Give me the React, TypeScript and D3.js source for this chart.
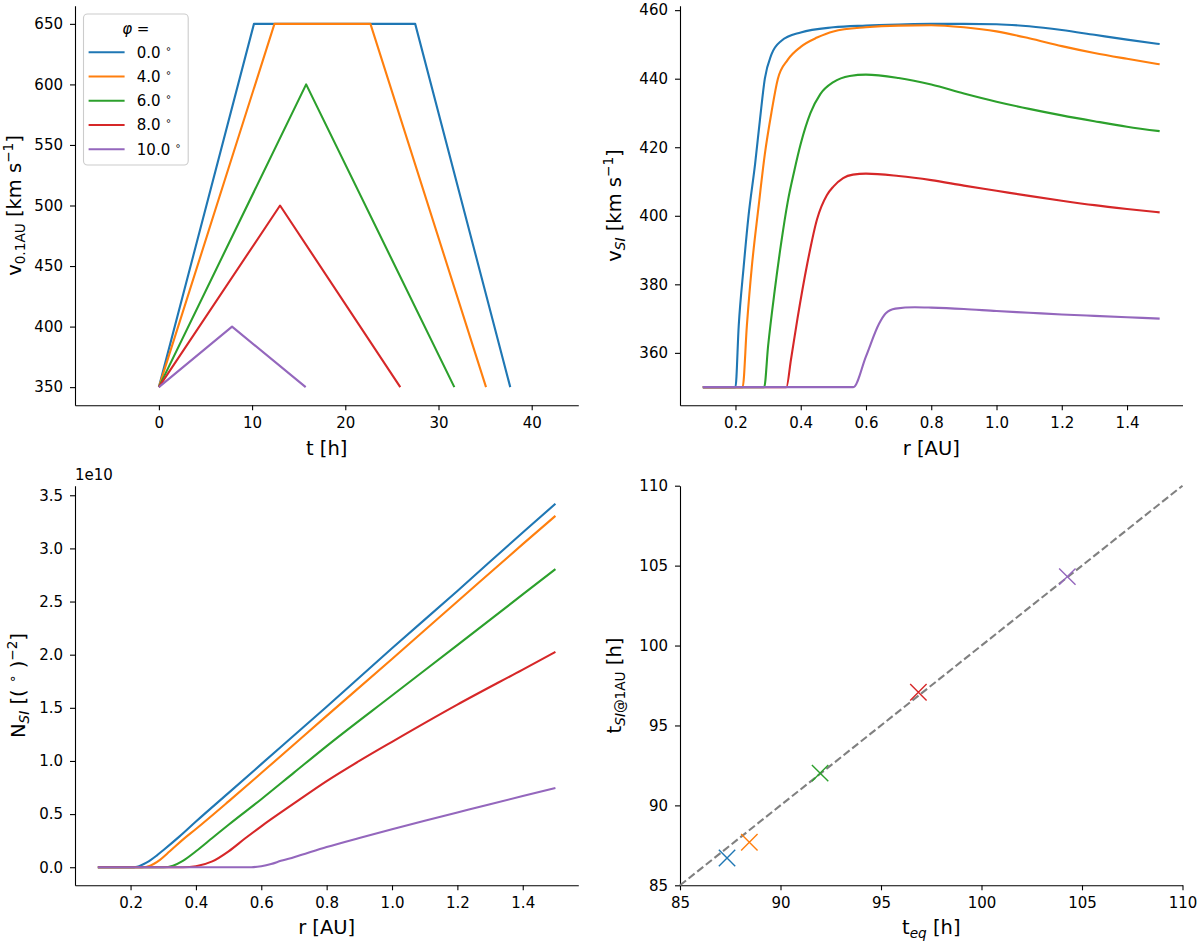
import { useEffect, useRef } from "react";
import * as d3 from "d3";

const PHI_LABELS = ["0.0", "4.0", "6.0", "8.0", "10.0"];
const COLORS = ["#1f77b4", "#ff7f0e", "#2ca02c", "#d62728", "#9467bd"];

// top left: speed profile at 0.1 AU
const PROFILE_T = [
  [0, 10.2, 27.5, 37.7],
  [0, 12.4, 22.7, 35.1],
  [0, 15.8, 31.7],
  [0, 13.0, 25.9],
  [0, 7.85, 15.75],
];
const PROFILE_V = [
  [350, 650, 650, 350],
  [350, 650, 650, 350],
  [350, 600, 350],
  [350, 500, 350],
  [350, 400, 350],
];

// top right: SI speed vs distance
const VSI_R = [
  [0.1, 0.2, 0.21, 0.225, 0.24, 0.26, 0.275, 0.29, 0.31, 0.34, 0.4, 0.5, 0.6, 0.7, 0.8, 0.9, 1.0, 1.1, 1.2, 1.3, 1.4, 1.5],
  [0.1, 0.222, 0.235, 0.25, 0.27, 0.29, 0.31, 0.33, 0.36, 0.4, 0.45, 0.5, 0.6, 0.7, 0.8, 0.9, 1.0, 1.1, 1.2, 1.3, 1.4, 1.5],
  [0.1, 0.288, 0.3, 0.32, 0.34, 0.36, 0.38, 0.4, 0.43, 0.46, 0.5, 0.55, 0.6, 0.7, 0.8, 0.9, 1.0, 1.1, 1.2, 1.3, 1.4, 1.5],
  [0.1, 0.356, 0.37, 0.39, 0.42, 0.45, 0.48, 0.5, 0.53, 0.56, 0.6, 0.7, 0.8, 0.9, 1.0, 1.1, 1.2, 1.3, 1.4, 1.5],
  [0.1, 0.561, 0.6, 0.64, 0.66, 0.69, 0.75, 0.8, 0.9, 1.0, 1.1, 1.2, 1.3, 1.4, 1.5],
];
const VSI_V = [
  [350, 350, 368, 385, 400, 415, 428, 440, 447, 451, 453.5, 455, 455.5, 455.8, 456, 456, 455.9, 455.3, 454.2, 452.8, 451.4, 450.1],
  [350, 350, 368, 385, 402, 418, 430, 440, 445.5, 449.3, 452, 453.8, 455, 455.5, 455.6, 455, 453.8, 451.8, 449.5, 447.5, 445.8, 444.2],
  [350, 350, 362, 378, 392, 404, 413, 421, 430, 435.5, 439, 440.8, 441.2, 440.2, 438.3, 435.7, 433.3, 431.2, 429.3, 427.6, 426, 424.7],
  [350, 350, 358, 370, 386, 399, 406, 408.5, 411, 412, 412.3, 411.6, 410.4, 408.8, 407.3, 405.8, 404.4, 403.1, 402, 401],
  [350, 350, 359, 368.5, 371.5, 372.9, 373.3, 373.2, 372.8, 372.2, 371.7, 371.2, 370.8, 370.4, 370],
];

// bottom left: SI column density (units of 1e10)
const NSI_R = [
  [0.1, 0.2, 0.22, 0.25, 0.28, 0.3, 0.35, 0.4, 0.5, 0.6, 0.8, 1.0, 1.2, 1.4, 1.5],
  [0.1, 0.235, 0.26, 0.29, 0.32, 0.36, 0.4, 0.5, 0.6, 0.8, 1.0, 1.2, 1.4, 1.5],
  [0.1, 0.3, 0.33, 0.36, 0.4, 0.45, 0.5, 0.6, 0.7, 0.8, 1.0, 1.2, 1.4, 1.5],
  [0.1, 0.36, 0.4, 0.45, 0.5, 0.55, 0.6, 0.7, 0.8, 0.9, 1.0, 1.2, 1.4, 1.5],
  [0.1, 0.57, 0.6, 0.63, 0.66, 0.7, 0.8, 0.9, 1.0, 1.1, 1.2, 1.3, 1.4, 1.5],
];
const NSI_N = [
  [0, 0, 0.005, 0.045, 0.11, 0.16, 0.29, 0.43, 0.7, 0.97, 1.51, 2.06, 2.6, 3.15, 3.42],
  [0, 0, 0.015, 0.07, 0.15, 0.26, 0.36, 0.62, 0.886, 1.424, 1.96, 2.5, 3.04, 3.306],
  [0, 0, 0.015, 0.06, 0.15, 0.275, 0.4, 0.64, 0.89, 1.14, 1.616, 2.09, 2.567, 2.805],
  [0, 0, 0.01, 0.055, 0.15, 0.27, 0.385, 0.6, 0.81, 1.0, 1.18, 1.53, 1.86, 2.026],
  [0, 0, 0.01, 0.03, 0.06, 0.095, 0.19, 0.275, 0.357, 0.437, 0.515, 0.593, 0.67, 0.745],
];

// bottom right: arrival times
const T_EQ = [87.34, 88.45, 91.97, 96.86, 104.27];
const T_SI = [86.71, 87.69, 92.02, 97.08, 104.31];
const DIAGONAL = [85, 110];

const TICKS_T = [0, 10, 20, 30, 40];
const TICKS_V0 = [350, 400, 450, 500, 550, 600, 650];
const TICKS_R = [0.2, 0.4, 0.6, 0.8, 1.0, 1.2, 1.4];
const TICKS_VSI = [360, 380, 400, 420, 440, 460];
const TICKS_N = [0, 0.5, 1.0, 1.5, 2.0, 2.5, 3.0, 3.5];
const TICKS_TEQ = [85, 90, 95, 100, 105, 110];

const FONT = "DejaVu Sans, sans-serif";
const TICK_FS = 15;
const LABEL_FS = 19.5;

type Part = [string, string];
type Box = { x0: number; x1: number; y0: number; y1: number };

const LEFT = { x0: 75, x1: 578.3 };
const RIGHT = { x0: 680, x1: 1182.5 };
const TOP = { y0: 5.7, y1: 405.3 };
const BOTTOM = { y0: 485.7, y1: 885.3 };

function rich(text: any, parts: Part[], base: number) {
  let cur = 0;
  parts.forEach(([s, mode]) => {
    const small = mode.startsWith("sub") || mode.startsWith("sup");
    const shift = mode.startsWith("sub") ? base * 0.22 : mode.startsWith("sup") ? -base * 0.4 : 0;
    text
      .append("tspan")
      .attr("dy", shift - cur)
      .attr("font-size", small ? base * 0.7 : base)
      .attr("font-style", mode.endsWith("i") ? "italic" : "normal")
      .text(s);
    cur = shift;
  });
}

function makeAxes(
  svg: any,
  box: Box,
  xDomain: [number, number],
  yDomain: [number, number],
  xTicks: number[],
  yTicks: number[],
  xFmt: (d: number) => string,
  yFmt: (d: number) => string
) {
  const x = d3.scaleLinear().domain(xDomain).range([box.x0, box.x1]);
  const y = d3.scaleLinear().domain(yDomain).range([box.y1, box.y0]);
  const g = svg.append("g");

  const gx = g
    .append("g")
    .attr("transform", `translate(0,${box.y1})`)
    .call(d3.axisBottom(x).tickValues(xTicks).tickFormat(xFmt as any).tickSize(5).tickSizeOuter(0).tickPadding(7));
  const gy = g
    .append("g")
    .attr("transform", `translate(${box.x0},0)`)
    .call(d3.axisLeft(y).tickValues(yTicks).tickFormat(yFmt as any).tickSize(5).tickSizeOuter(0).tickPadding(7));

  [gx, gy].forEach((a) => {
    a.attr("font-family", FONT).attr("font-size", TICK_FS);
    a.selectAll("text").attr("fill", "#000");
    a.selectAll(".domain, .tick line").attr("stroke", "#000").attr("stroke-width", 1.1);
  });
  return { x, y, g };
}

function xLabel(svg: any, box: Box, baseline: number, parts: Part[]) {
  const t = svg
    .append("text")
    .attr("x", (box.x0 + box.x1) / 2)
    .attr("y", baseline)
    .attr("text-anchor", "middle")
    .attr("font-family", FONT)
    .attr("font-size", LABEL_FS)
    .style("white-space", "pre");
  rich(t, parts, LABEL_FS);
}

function yLabel(svg: any, box: Box, bx: number, parts: Part[]) {
  const t = svg
    .append("text")
    .attr("transform", `translate(${bx},${(box.y0 + box.y1) / 2}) rotate(-90)`)
    .attr("text-anchor", "middle")
    .attr("font-family", FONT)
    .attr("font-size", LABEL_FS)
    .style("white-space", "pre");
  rich(t, parts, LABEL_FS);
}

function drawLines(g: any, x: any, y: any, xs: number[][], ys: number[][], curve: any) {
  const line = d3
    .line<[number, number]>()
    .x((d) => x(d[0]))
    .y((d) => y(d[1]))
    .curve(curve);
  xs.forEach((row, i) => {
    const pts = row.map((v, j) => [v, ys[i][j]] as [number, number]);
    g.append("path")
      .attr("d", line(pts))
      .attr("fill", "none")
      .attr("stroke", COLORS[i])
      .attr("stroke-width", 2.1)
      .attr("stroke-linejoin", "round")
      .attr("stroke-linecap", "butt");
  });
}

export default function App() {
  const ref = useRef<SVGSVGElement>(null);

  useEffect(() => {
    if (!ref.current) return;
    const svg = d3.select(ref.current);
    svg.selectAll("*").remove();

    const f0 = (d: number) => d3.format("d")(d);
    const f1 = (d: number) => d3.format(".1f")(d);

    // top left
    const tl = { ...LEFT, ...TOP };
    const a = makeAxes(svg, tl, [-9, 45], [335, 665], TICKS_T, TICKS_V0, f0, f0);
    drawLines(a.g, a.x, a.y, PROFILE_T, PROFILE_V, d3.curveLinear);
    xLabel(svg, tl, 454.5, [["t [h]", "n"]]);
    yLabel(svg, tl, 20.5, [["v", "n"], ["0.1AU", "sub"], [" [km s", "n"], ["−1", "sup"], ["]", "n"]]);

    // legend
    const lg = svg.append("g").attr("font-family", FONT).attr("font-size", TICK_FS);
    lg.append("rect")
      .attr("x", 83.5)
      .attr("y", 14)
      .attr("width", 104.7)
      .attr("height", 151)
      .attr("rx", 4)
      .attr("fill", "#fff")
      .attr("fill-opacity", 0.8)
      .attr("stroke", "#cccccc")
      .attr("stroke-width", 1.1);
    const title = lg.append("text").attr("x", 135.8).attr("y", 34).attr("text-anchor", "middle").style("white-space", "pre");
    title.append("tspan").attr("font-style", "italic").text("φ");
    title.append("tspan").text(" =");
    PHI_LABELS.forEach((lab, i) => {
      const ly = 52.3 + i * 24.25;
      lg.append("line")
        .attr("x1", 88.6)
        .attr("x2", 124.6)
        .attr("y1", ly)
        .attr("y2", ly)
        .attr("stroke", COLORS[i])
        .attr("stroke-width", 2.1);
      const t = lg.append("text").attr("x", 136.8).attr("y", ly + 5.4).style("white-space", "pre");
      t.append("tspan").text(lab + " ");
      t.append("tspan").attr("font-size", 10).attr("dy", -6).text("∘");
    });

    // top right
    const tr = { ...RIGHT, ...TOP };
    const b = makeAxes(svg, tr, [0.03, 1.57], [344.7, 461.3], TICKS_R, TICKS_VSI, f1, f0);
    drawLines(b.g, b.x, b.y, VSI_R, VSI_V, d3.curveMonotoneX);
    xLabel(svg, tr, 454.5, [["r [AU]", "n"]]);
    yLabel(svg, tr, 621, [["v", "n"], ["SI", "subi"], [" [km s", "n"], ["−1", "sup"], ["]", "n"]]);

    // bottom left
    const bl = { ...LEFT, ...BOTTOM };
    const c = makeAxes(svg, bl, [0.03, 1.57], [-0.17, 3.59], TICKS_R, TICKS_N, f1, f1);
    drawLines(c.g, c.x, c.y, NSI_R, NSI_N, d3.curveMonotoneX);
    xLabel(svg, bl, 934, [["r [AU]", "n"]]);
    yLabel(svg, bl, 24.5, [
      ["N", "n"],
      ["SI", "subi"],
      [" [( ", "n"],
      ["∘", "sup"],
      [" )", "n"],
      ["−2", "sup"],
      ["]", "n"],
    ]);
    svg
      .append("text")
      .attr("x", bl.x0)
      .attr("y", 480)
      .attr("font-family", FONT)
      .attr("font-size", TICK_FS)
      .text("1e10");

    // bottom right
    const br = { ...RIGHT, ...BOTTOM };
    const d = makeAxes(svg, br, [85, 110], [85, 110], TICKS_TEQ, TICKS_TEQ, f0, f0);
    d.g
      .append("path")
      .attr("d", d3.line<number>().x((v) => d.x(v)).y((v) => d.y(v))(DIAGONAL))
      .attr("fill", "none")
      .attr("stroke", "#808080")
      .attr("stroke-width", 2.1)
      .attr("stroke-dasharray", "7.7,3.3");
    T_EQ.forEach((te, i) => {
      const cx = d.x(te);
      const cy = d.y(T_SI[i]);
      const h = 8.2;
      d.g
        .append("path")
        .attr("d", `M${cx - h},${cy - h}L${cx + h},${cy + h}M${cx - h},${cy + h}L${cx + h},${cy - h}`)
        .attr("stroke", COLORS[i])
        .attr("stroke-width", 1.4)
        .attr("fill", "none");
    });
    xLabel(svg, br, 934, [["t", "n"], ["eq", "subi"], [" [h]", "n"]]);
    yLabel(svg, br, 621, [["t", "n"], ["SI", "subi"], ["@1AU", "sub"], [" [h]", "n"]]);
  }, []);

  return (
    <svg
      ref={ref}
      width={1200}
      height={943}
      style={{ position: "absolute", left: 0, top: 0, background: "#fff" }}
    />
  );
}
